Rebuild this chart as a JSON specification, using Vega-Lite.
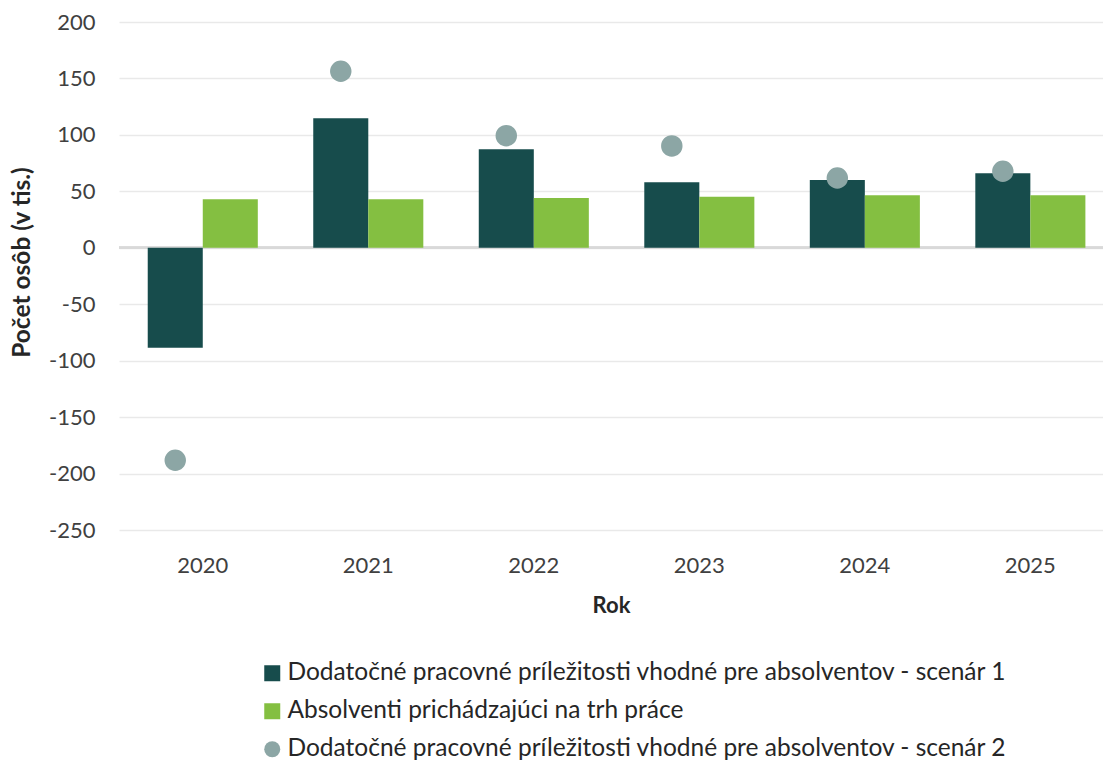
{
  "$schema": "https://vega.github.io/schema/vega-lite/v6.json",
  "autosize": {"type": "none"},
  "padding": {"left": 119, "top": 22, "right": 0, "bottom": 233},
  "width": 984,
  "height": 508,
  "background": "white",
  "config": {
    "view": {"stroke": null},
    "font": "Lato",
    "axis": {"labelFont": "Lato", "titleFont": "Lato", "labelColor": "#404040", "titleColor": "#262626"},
    "legend": {"labelFont": "Lato", "labelColor": "#262626"}
  },
  "data": {
    "values": [
      {"rok": "2020", "seria": "Dodatočné pracovné príležitosti vhodné pre absolventov - scenár 1", "hodnota": -88.5},
      {"rok": "2021", "seria": "Dodatočné pracovné príležitosti vhodné pre absolventov - scenár 1", "hodnota": 114.7},
      {"rok": "2022", "seria": "Dodatočné pracovné príležitosti vhodné pre absolventov - scenár 1", "hodnota": 87.2},
      {"rok": "2023", "seria": "Dodatočné pracovné príležitosti vhodné pre absolventov - scenár 1", "hodnota": 58.0},
      {"rok": "2024", "seria": "Dodatočné pracovné príležitosti vhodné pre absolventov - scenár 1", "hodnota": 60.1},
      {"rok": "2025", "seria": "Dodatočné pracovné príležitosti vhodné pre absolventov - scenár 1", "hodnota": 66.0},
      {"rok": "2020", "seria": "Absolventi prichádzajúci na trh práce", "hodnota": 43.0},
      {"rok": "2021", "seria": "Absolventi prichádzajúci na trh práce", "hodnota": 43.0},
      {"rok": "2022", "seria": "Absolventi prichádzajúci na trh práce", "hodnota": 44.1},
      {"rok": "2023", "seria": "Absolventi prichádzajúci na trh práce", "hodnota": 45.3},
      {"rok": "2024", "seria": "Absolventi prichádzajúci na trh práce", "hodnota": 46.5},
      {"rok": "2025", "seria": "Absolventi prichádzajúci na trh práce", "hodnota": 46.5},
      {"rok": "2020", "seria": "Dodatočné pracovné príležitosti vhodné pre absolventov - scenár 2", "hodnota": -188.2},
      {"rok": "2021", "seria": "Dodatočné pracovné príležitosti vhodné pre absolventov - scenár 2", "hodnota": 156.4},
      {"rok": "2022", "seria": "Dodatočné pracovné príležitosti vhodné pre absolventov - scenár 2", "hodnota": 99.3},
      {"rok": "2023", "seria": "Dodatočné pracovné príležitosti vhodné pre absolventov - scenár 2", "hodnota": 90.2},
      {"rok": "2024", "seria": "Dodatočné pracovné príležitosti vhodné pre absolventov - scenár 2", "hodnota": 61.8},
      {"rok": "2025", "seria": "Dodatočné pracovné príležitosti vhodné pre absolventov - scenár 2", "hodnota": 67.8}
    ]
  },
  "encoding": {
    "x": {
      "field": "rok", "type": "nominal", "sort": null,
      "scale": {"paddingInner": 0.335, "paddingOuter": 0.14, "align": 0.62},
      "axis": {
        "title": "Rok", "labelAngle": 0, "labelFontSize": 22, "labelPadding": 25,
        "ticks": false, "domain": false, "grid": false,
        "titleFontSize": 22, "titleFontWeight": "bold", "titlePadding": 19
      }
    },
    "y": {
      "field": "hodnota", "type": "quantitative",
      "scale": {"domain": [-250, 200], "nice": false, "zero": false},
      "axis": {
        "title": "Počet osôb (v tis.)", "values": [-250, -200, -150, -100, -50, 0, 50, 100, 150, 200],
        "labelExpr": "replace(datum.label, '−', '-')",
        "labelFontSize": 22, "labelPadding": 24, "ticks": false, "domain": false,
        "gridColor": "#e9e9e9", "gridWidth": 1.5,
        "titleFontSize": 24.5, "titleFontWeight": "bold", "titlePadding": 14, "titleY": 240
      }
    },
    "color": {
      "field": "seria", "type": "nominal",
      "scale": {
        "domain": ["Dodatočné pracovné príležitosti vhodné pre absolventov - scenár 1", "Absolventi prichádzajúci na trh práce", "Dodatočné pracovné príležitosti vhodné pre absolventov - scenár 2"],
        "range": ["#174c4c", "#84bf41", "#8ca6a5"]
      },
      "legend": {
        "title": null, "orient": "none", "legendX": 141, "legendY": 639, "direction": "vertical",
        "padding": 0, "labelFontSize": 24.5, "labelLimit": 900, "labelOffset": 3,
        "symbolSize": 256, "rowPadding": 13, "symbolStrokeWidth": 0
      }
    },
    "shape": {
      "field": "seria", "type": "nominal",
      "scale": {
        "domain": ["Dodatočné pracovné príležitosti vhodné pre absolventov - scenár 1", "Absolventi prichádzajúci na trh práce", "Dodatočné pracovné príležitosti vhodné pre absolventov - scenár 2"],
        "range": ["square", "square", "circle"]
      },
      "legend": {
        "title": null, "orient": "none", "legendX": 141, "legendY": 639, "direction": "vertical",
        "padding": 0, "labelFontSize": 24.5, "labelLimit": 900, "labelOffset": 3,
        "symbolSize": 256, "rowPadding": 13, "symbolStrokeWidth": 0
      }
    }
  },
  "layer": [
    {
      "mark": {"type": "rule", "color": "#d9d9d9", "strokeWidth": 2},
      "encoding": {"y": {"datum": 0}, "x": null, "color": null, "shape": null}
    },
    {
      "transform": [{"filter": "datum.seria !== 'Dodatočné pracovné príležitosti vhodné pre absolventov - scenár 2'"}],
      "mark": {"type": "bar"},
      "encoding": {
        "xOffset": {
          "field": "seria", "type": "nominal",
          "scale": {"domain": ["Dodatočné pracovné príležitosti vhodné pre absolventov - scenár 1", "Absolventi prichádzajúci na trh práce"], "paddingInner": 0, "paddingOuter": 0}
        }
      }
    },
    {
      "transform": [{"filter": "datum.seria === 'Dodatočné pracovné príležitosti vhodné pre absolventov - scenár 2'"}],
      "mark": {"type": "point", "filled": true, "opacity": 1, "size": 460},
      "encoding": {
        "xOffset": {"datum": "Dodatočné pracovné príležitosti vhodné pre absolventov - scenár 1"}
      }
    }
  ]
}
